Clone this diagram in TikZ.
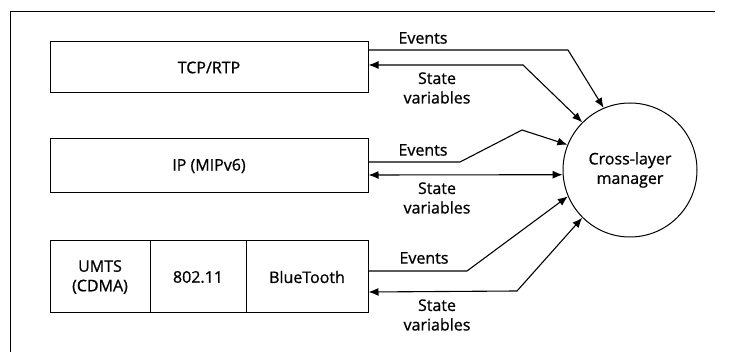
\documentclass[tikz,border=0pt]{standalone}
\usepackage{fontspec}
\setmainfont{Open Sans}[RawFeature={embolden=0.9}]
\usetikzlibrary{arrows.meta}
\begin{document}
\begin{tikzpicture}[x=1pt,y=-1pt,
  txt/.style={font=\fontsize{16}{19.5}\selectfont},
  layer/.style={draw,line width=1pt,minimum height=#1,inner sep=0pt,txt},
  mgrnode/.style={draw,circle,line width=1pt,minimum size=134pt,inner sep=0pt,align=center,txt},
  link/.style={line width=1.1pt},
  tip/.style={-{Latex[length=10pt,width=8pt]}},
  both/.style={{Latex[length=10pt,width=8pt]}-{Latex[length=10pt,width=8pt]}},
  lbl/.style={txt,align=center,inner sep=0pt}]
  \useasboundingbox (0,0) rectangle (729,352);
  % partial outer frame
  \draw[line width=1pt] (10,352) -- (10,12) -- (715,12);

  % protocol stack
  \node[layer=51pt,minimum width=318pt] (tcp) at (209,67.5) {TCP/RTP};
  \node[layer=54pt,minimum width=318pt] (ip) at (209,166) {IP (MIPv6)};
  \node[layer=72pt,minimum width=100pt,align=center] (umts) at (100,277) {UMTS\\(CDMA)};
  \node[layer=72pt,minimum width=96pt] (wifi) at (198,277) {802.11};
  \node[layer=72pt,minimum width=122pt] (bt) at (307,277) {BlueTooth};

  % manager
  \node[mgrnode] (mgr) at (630,170) {Cross-layer\\manager};

  % TCP/RTP links
  \coordinate (c1) at (568,50);
  \coordinate (c2) at (523,65);
  \draw[link,tip] ([yshift=17.5pt]tcp.east) -- (c1) -- (mgr.113.6);
  \draw[link,both] ([yshift=2.5pt]tcp.east) -- (c2) -- (mgr.135);
  \node[lbl] (ev1) at (423,38) {Events};
  \node[lbl] (sv1) at (437,88) {State\\variables};

  % IP links
  \coordinate (c3) at (460,162);
  \coordinate (c4) at (522,130);
  \draw[link,tip] ([yshift=4pt]ip.east) -- (c3) -- (c4) -- (mgr.158.4);
  \draw[link,both] ([yshift=-9pt]ip.east) -- (mgr.184.3);
  \node[lbl] (ev2) at (423,150) {Events};
  \node[lbl] (sv2) at (437,198) {State\\variables};

  % link-layer links
  \coordinate (c5) at (467,271);
  \coordinate (c6) at (517,291);
  \draw[link,tip] ([yshift=6pt]bt.east) -- (c5) -- (mgr.203.2);
  \draw[link,both] ([yshift=-15pt]bt.east) -- (c6) -- (mgr.225);
  \node[lbl] (ev3) at (424,258) {Events};
  \node[lbl] (sv3) at (437,315) {State\\variables};
\end{tikzpicture}
\end{document}
